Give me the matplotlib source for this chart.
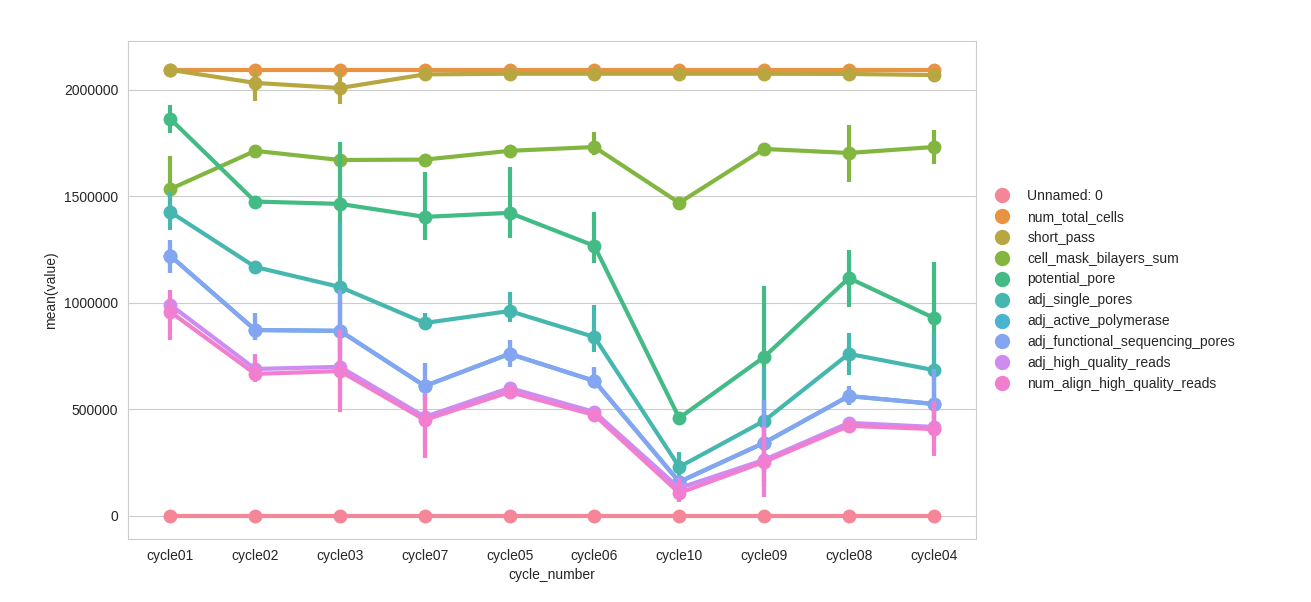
import matplotlib
matplotlib.use("Agg")
import matplotlib.pyplot as plt
from matplotlib.lines import Line2D
from matplotlib.ticker import ScalarFormatter
import seaborn as sns
import numpy as np

sns.set_style("whitegrid")
plt.rcParams['font.family'] = ['Liberation Sans', 'DejaVu Sans']

cycles = ["cycle01", "cycle02", "cycle03", "cycle07", "cycle05",
          "cycle06", "cycle10", "cycle09", "cycle08", "cycle04"]

series_names = ["Unnamed: 0", "num_total_cells", "short_pass", "cell_mask_bilayers_sum",
                "potential_pore", "adj_single_pores", "adj_active_polymerase",
                "adj_functional_sequencing_pores", "adj_high_quality_reads",
                "num_align_high_quality_reads"]

# mean values per cycle, with lower / upper ends of the error bars
unnamed_mean = [0, 0, 0, 0, 0, 0, 0, 0, 0, 0]
unnamed_lo = [0, 0, 0, 0, 0, 0, 0, 0, 0, 0]
unnamed_hi = [0, 0, 0, 0, 0, 0, 0, 0, 0, 0]

total_mean = [2094000] * 10
total_lo = [2094000] * 10
total_hi = [2094000] * 10

short_mean = [2094000, 2033000, 2009000, 2073000, 2076000, 2076000, 2076000, 2076000, 2075000, 2070000]
short_lo = [2089000, 1948000, 1934000, 2066000, 2070000, 2070000, 2070000, 2070000, 2068000, 2062000]
short_hi = [2099000, 2099000, 2094000, 2080000, 2082000, 2082000, 2082000, 2082000, 2082000, 2078000]

bilayer_mean = [1535000, 1714000, 1671000, 1673000, 1714000, 1732000, 1470000, 1723000, 1704000, 1732000]
bilayer_lo = [1380000, 1690000, 1650000, 1640000, 1700000, 1695000, 1462000, 1700000, 1568000, 1653000]
bilayer_hi = [1690000, 1738000, 1692000, 1700000, 1728000, 1803000, 1478000, 1746000, 1836000, 1812000]

pore_mean = [1864000, 1476000, 1465000, 1404000, 1423000, 1268000, 460000, 746000, 1117000, 930000]
pore_lo = [1798000, 1462000, 1174000, 1296000, 1305000, 1188000, 450000, 412000, 981000, 680000]
pore_hi = [1930000, 1490000, 1756000, 1615000, 1639000, 1427000, 470000, 1080000, 1249000, 1190000]

single_mean = [1427000, 1169000, 1075000, 906000, 962000, 840000, 230000, 446000, 761000, 685000]
single_lo = [1343000, 1150000, 775000, 880000, 911000, 770000, 169000, 200000, 662000, 510000]
single_hi = [1520000, 1190000, 1380000, 953000, 1052000, 991000, 300000, 700000, 859000, 860000]

polym_mean = [1221000, 873000, 869000, 610000, 761000, 634000, 160000, 343000, 563000, 526000]
polym_lo = [1140000, 826000, 680000, 540000, 700000, 606000, 130000, 140000, 521000, 370000]
polym_hi = [1296000, 953000, 1061000, 718000, 826000, 700000, 190000, 545000, 610000, 690000]

func_mean = [1221000, 873000, 869000, 610000, 761000, 634000, 160000, 343000, 563000, 526000]
func_lo = [1140000, 826000, 680000, 540000, 700000, 606000, 130000, 140000, 521000, 370000]
func_hi = [1296000, 953000, 1061000, 718000, 826000, 700000, 190000, 545000, 610000, 690000]

hq_mean = [991000, 690000, 700000, 465000, 601000, 488000, 131000, 263000, 437000, 418000]
hq_lo = [860000, 650000, 510000, 290000, 580000, 470000, 90000, 100000, 415000, 295000]
hq_hi = [1060000, 760000, 880000, 575000, 622000, 505000, 180000, 420000, 460000, 540000]

align_mean = [958000, 667000, 680000, 451000, 582000, 474000, 108000, 254000, 423000, 408000]
align_lo = [826000, 629000, 488000, 272000, 560000, 455000, 66000, 89000, 400000, 282000]
align_hi = [1061000, 756000, 873000, 568000, 605000, 493000, 169000, 418000, 446000, 535000]

means = [unnamed_mean, total_mean, short_mean, bilayer_mean, pore_mean,
         single_mean, polym_mean, func_mean, hq_mean, align_mean]
lows = [unnamed_lo, total_lo, short_lo, bilayer_lo, pore_lo,
        single_lo, polym_lo, func_lo, hq_lo, align_lo]
highs = [unnamed_hi, total_hi, short_hi, bilayer_hi, pore_hi,
         single_hi, polym_hi, func_hi, hq_hi, align_hi]

colors = sns.husl_palette(len(series_names), l=0.69, s=0.85)

fig, ax = plt.subplots(figsize=(13.11, 6.02), dpi=100)
fig.subplots_adjust(left=0.0976, right=0.7445, top=0.932, bottom=0.1047)

x = np.arange(len(cycles))
lw = 3.0
for i, name in enumerate(series_names):
    c = colors[i]
    ax.vlines(x, lows[i], highs[i], color=c, lw=lw, zorder=2 + i * 0.01)
    ax.plot(x, means[i], color=c, lw=lw, zorder=2 + i * 0.01)
    ax.plot(x, means[i], "o", color=c, markersize=10, markeredgewidth=0,
            zorder=2 + i * 0.01)

ax.set_xticks(x)
ax.set_xticklabels(cycles)
ax.set_xlim(-0.5, 9.5)
ax.set_ylim(-108000, 2230000)
ax.set_yticks([0, 500000, 1000000, 1500000, 2000000])
fmt = ScalarFormatter(useOffset=False)
fmt.set_scientific(False)
ax.yaxis.set_major_formatter(fmt)
ax.xaxis.grid(False)
ax.set_xlabel("cycle_number")
ax.set_ylabel("mean(value)")

handles = [Line2D([], [], ls="", marker="o", color=colors[i], markersize=10)
           for i in range(len(series_names))]
ax.legend(handles, series_names, loc="center left", bbox_to_anchor=(1.0, 0.5),
          frameon=False, handletextpad=0.8, labelspacing=0.5)

fig.savefig("out.png", dpi=100)
